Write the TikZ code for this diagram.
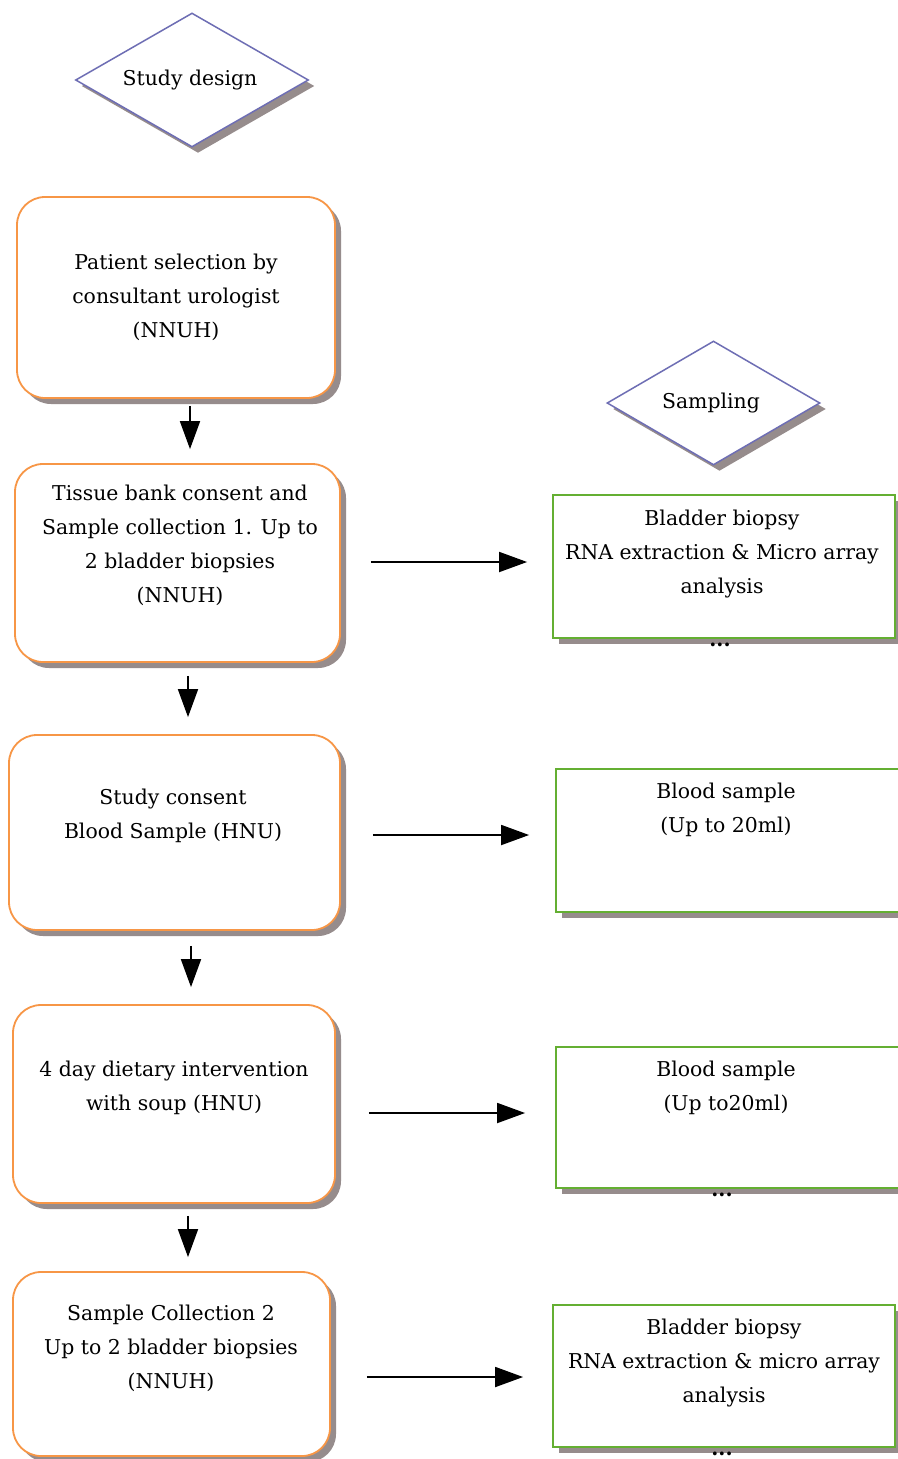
\documentclass[tikz,border=0pt]{standalone}
\usepackage{fontspec}
\setmainfont{DejaVu Serif}
\usetikzlibrary{shapes.geometric,shadows,arrows.meta}
\definecolor{oborder}{RGB}{247,150,70}
\definecolor{gborder}{RGB}{100,175,50}
\definecolor{dborder}{RGB}{110,110,180}
\definecolor{shadowgray}{RGB}{150,140,140}
\begin{document}
\begin{tikzpicture}[x=1pt,y=-1pt,
  txt/.style={font=\fontsize{20.4}{34}\selectfont,align=center,inner sep=0pt},
  shad/.style={drop shadow={shadow xshift=6pt,shadow yshift=-6pt,fill=shadowgray,opacity=1}},
  obox/.style={draw=oborder,line width=1.8pt,rounded corners=28pt,fill=white,shad,inner sep=0pt},
  gbox/.style={draw=gborder,line width=1.8pt,fill=white,shad,inner sep=0pt},
  dbox/.style={diamond,draw=dborder,line width=1.5pt,fill=white,shad,inner sep=0pt},
  arr/.style={line width=1.8pt,-{Triangle[length=28pt,width=20pt]}},
  dots/.style={font=\fontsize{20.4}{34}\selectfont\bfseries,inner sep=0pt}]
\useasboundingbox[fill=white] (0,0) rectangle (897,1459);

% diamonds
\node[dbox,minimum width=233pt,minimum height=134pt] (d1) at (192,80) {};
\node[txt] (d1t) at (190,80) {Study design};
\node[dbox,minimum width=213pt,minimum height=124pt] (d2) at (713.5,403) {};
\node[txt] (d2t) at (711,403) {Sampling};

% orange boxes
\node[obox,minimum width=318pt,minimum height=201pt] (o1) at (176,297.5) {};
\node[txt] (o1t) at (176,297) {Patient selection by\\consultant urologist\\(NNUH)};
\node[obox,minimum width=325pt,minimum height=198pt] (o2) at (177.5,563) {};
\node[txt] (o2t) at (180,545) {Tissue bank consent and\\Sample collection 1. Up to\\2 bladder biopsies\\(NNUH)};
\node[obox,minimum width=331pt,minimum height=195pt] (o3) at (174.5,832.5) {};
\node[txt] (o3t) at (173,816) {Study consent\\Blood Sample (HNU)};
\node[obox,minimum width=322pt,minimum height=198pt] (o4) at (174,1104) {};
\node[txt] (o4t) at (174,1088) {4 day dietary intervention\\with soup (HNU)};
\node[obox,minimum width=317pt,minimum height=184pt] (o5) at (171.5,1364) {};
\node[txt] (o5t) at (171,1348) {Sample Collection 2\\Up to 2 bladder biopsies\\(NNUH)};

% green boxes
\node[gbox,minimum width=342pt,minimum height=143pt] (g1) at (724,566.5) {};
\node[txt] (g1t) at (722,554) {Bladder biopsy\\RNA extraction \& Micro array\\analysis};
\node[dots] (g1d) at (720,645) {...};
\node[gbox,minimum width=344pt,minimum height=143pt] (g2) at (728,840.5) {};
\node[txt] (g2t) at (726,810) {Blood sample\\(Up to 20ml)};
\node[gbox,minimum width=344pt,minimum height=141pt] (g3) at (728,1117.5) {};
\node[txt] (g3t) at (726,1088) {Blood sample\\(Up to20ml)};
\node[dots] (g3d) at (722,1195) {...};
\node[gbox,minimum width=342pt,minimum height=142pt] (g4) at (724,1376) {};
\node[txt] (g4t) at (724,1363) {Bladder biopsy\\RNA extraction \& micro array\\analysis};
\node[dots] (g4d) at (722,1454) {...};

% vertical arrows
\draw[arr] ([xshift=14pt,yshift=-7pt]o1.south) -- ([xshift=12.5pt,yshift=14pt]o2.north);
\draw[arr] ([xshift=10.5pt,yshift=-13pt]o2.south) -- ([xshift=13.5pt,yshift=17pt]o3.north);
\draw[arr] ([xshift=16.5pt,yshift=-15pt]o3.south) -- ([xshift=17pt,yshift=17pt]o4.north);
\draw[arr] ([xshift=14pt,yshift=-12pt]o4.south) -- ([xshift=16.5pt,yshift=14pt]o5.north);

% horizontal arrows
\draw[arr] ([xshift=30pt,yshift=1pt]o2.east) -- ([xshift=-25pt,yshift=4.5pt]g1.west);
\draw[arr] ([xshift=32pt,yshift=-2.5pt]o3.east) -- ([xshift=-26pt,yshift=5.5pt]g2.west);
\draw[arr] ([xshift=33pt,yshift=-9pt]o4.east) -- ([xshift=-30pt,yshift=4.5pt]g3.west);
\draw[arr] ([xshift=36pt,yshift=-13pt]o5.east) -- ([xshift=-29pt,yshift=-1pt]g4.west);
\end{tikzpicture}
\end{document}
